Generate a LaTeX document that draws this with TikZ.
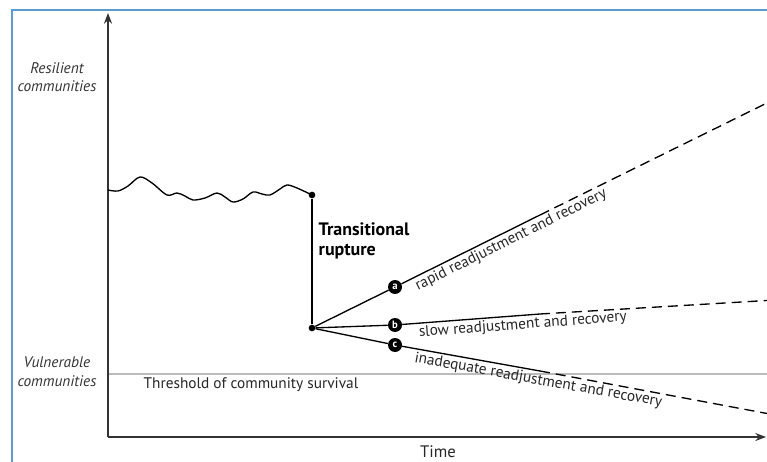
\documentclass[tikz,border=0pt]{standalone}
\usepackage{fontspec}
\setmainfont{PT Sans}
\usetikzlibrary{arrows.meta,positioning}

\definecolor{framecol}{HTML}{5B9BD5}
\definecolor{axiscol}{HTML}{333333}
\definecolor{threshcol}{HTML}{BBBBBB}

\begin{document}
\begin{tikzpicture}[x=0.75pt,y=0.75pt,
    font=\fontsize{11.5}{13}\selectfont,
    axis/.style={draw=axiscol, line width=1.5pt, -{Stealth[length=8pt,width=6pt]}},
    path line/.style={line width=1pt},
    future line/.style={line width=1pt, dash pattern=on 7.5pt off 4.5pt},
    turn dot/.style={circle, fill=black, inner sep=0pt, minimum size=5pt},
    letter/.style={circle, fill=black, inner sep=0pt, minimum size=10.5pt,
        text=white, font=\fontsize{8}{8}\bfseries\selectfont},
    side label/.style={align=center, font=\fontsize{11.5}{14}\itshape\selectfont, text=black!80},
    trend label/.style={sloped, below, inner sep=1.5pt, text=black!85}]
\useasboundingbox (0,0) rectangle (767,461);

% Frame
\draw[framecol, line width=1.5pt] (12,-5) -- (12,451) -- (775,451);

% Axes & threshold
\coordinate (origin) at (108,24);
\coordinate (ytip) at (108,448);
\coordinate (xtip) at (766,24);
\coordinate (thresh_l) at (108,87);
\coordinate (thresh_r) at (770,87);
\draw[threshcol, line width=1.5pt] (thresh_l) -- (thresh_r);
\draw[axis] (origin) -- (ytip);
\draw[axis] (origin) -- (xtip);

% Labels
\node[side label] (resilient) at (57,384) {Resilient\\communities};
\node[side label] (vulnerable) at (57,89) {Vulnerable\\communities};
\node[  text=black!85,
        font=\fontsize{12.5}{14}\selectfont
    ] (time) at (438,9) {Time};
\node[  anchor=west,
        text=black!85
    ] (threshold) at (139,76) {Threshold of community survival};

% Rupture
\node[turn dot] (rupt_top) at (312,266) {};
\node[turn dot] (rupt_base) at (312,133) {};
\node[  anchor=west,
        align=left,
        font=\fontsize{13.5}{15}\bfseries\selectfont
    ] (rupture) at (314,220) {Transitional\\rupture};

% Outcomes
\node[letter] (circ_a) at (395,174) {a};
\node[letter] (circ_b) at (395,136) {b};
\node[letter] (circ_c) at (395,116) {c};
\coordinate (solid_a) at (540,246);
\coordinate (solid_b) at (540,147);
\coordinate (solid_c) at (540,90);
\coordinate (end_a) at (775,362);
\coordinate (end_b) at (775,161);
\coordinate (end_c) at (775,46);

% Curves
\draw[line width=1pt, smooth, tension=0.55]
    plot coordinates {(108,271) (118,270) (128,275) (140,284) (152,278)
        (167,266) (177,268) (185,265) (193,261) (205,263) (217,268)
        (225,264) (233,259) (243,262) (253,269) (262,267) (270,266)
        (280,272) (287,276) (297,273) (312,266)};
\draw[path line] (rupt_top) -- (rupt_base);
\draw[path line]
    (rupt_base) edge (circ_a)
    (rupt_base) edge (circ_b)
    (rupt_base) edge (circ_c)
    (circ_a) edge node[trend label, pos=0.76] {rapid readjustment and recovery} (solid_a)
    (circ_b) edge node[trend label, pos=0.87] {slow readjustment and recovery} (solid_b)
    (circ_c) edge node[trend label, pos=1.0] {inadequate readjustment and recovery} (solid_c);
\draw[future line]
    (solid_a) edge (end_a)
    (solid_b) edge (end_b)
    (solid_c) edge (end_c);
\end{tikzpicture}
\end{document}
